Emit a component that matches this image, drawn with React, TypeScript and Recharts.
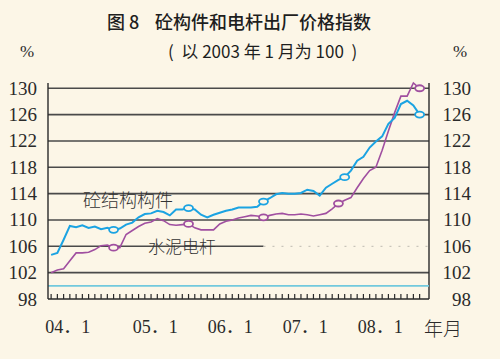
import { LineChart, Line, XAxis, YAxis, ReferenceLine } from "recharts";

// 砼结构构件 (cyan) and 水泥电杆 (purple), monthly index, 2003.1 = 100
const concrete = [
  104.7, 105, 107, 109.1, 108.9, 109.2, 108.8, 109, 108.6, 108.8,
  108.5, 108.7, 109.3, 109.6, 110.4, 110.9, 111, 111.4, 111.2, 110.7,
  111.6, 111.6, 111.8, 111.6, 110.8, 110.4, 110.8, 111.1, 111.4, 111.6,
  111.9, 111.9, 111.9, 112, 112.8, 113.3, 113.9, 114.1, 114, 114,
  114.1, 114.6, 114.4, 113.7, 114.9, 115.5, 116.1, 116.5, 117.5, 119,
  119.6, 121, 121.9, 122.7, 124.6, 125.5, 127.6, 128.1, 127.4, 126,
];
const pole = [
  102, 102.4, 102.6, 103.8, 105, 105, 105.1, 105.5, 106.1, 106.2,
  105.8, 105.8, 107.8, 108.4, 109, 109.5, 109.7, 110.2, 109.9, 109.3,
  109.2, 109.3, 109.4, 108.8, 108.5, 108.5, 108.5, 109.4, 109.8, 110,
  110.3, 110.5, 110.7, 110.6, 110.4, 110.7, 110.9, 111, 110.8, 110.8,
  110.9, 110.8, 110.6, 110.8, 111, 111.7, 112.5, 113, 113.4, 114.9,
  116.3, 117.5, 118, 120.6, 123.5, 126.3, 128.8, 128.8, 130.8, 130,
];
const concreteMarks = [10, 22, 34, 47, 59];
const poleMarks = [10, 22, 34, 46, 59];

const yTicks = [98, 102, 106, 110, 114, 118, 122, 126, 130];
const yearTickIdx = [3, 17, 29, 41, 53];
const yearLabels = ["04．1", "05．1", "06．1", "07．1", "08．1"];

const data = concrete.map((v, i) => ({ i, concrete: v, pole: pole[i] }));

const BG = "#fcf6e7";
const CYAN = "#1ba3e2";
const PURPLE = "#a04fa0";
const INK = "#2a2a2a";
const SERIF = "'Liberation Serif', 'DejaVu Serif', serif";
const CJK = "'Noto Sans CJK SC', sans-serif";

const makeDot = (marks: number[], color: string) => (props: any) => {
  const { cx, cy, index } = props;
  if (!marks.includes(index)) return <g key={`d-${color}-${index}`} />;
  return (
    <ellipse
      key={`d-${color}-${index}`}
      cx={cx}
      cy={cy}
      rx={4.5}
      ry={3}
      fill={BG}
      stroke={color}
      strokeWidth={1.8}
    />
  );
};

const XTick = (props: any) => {
  const { x, y, payload } = props;
  const k = yearTickIdx.indexOf(payload.value);
  return (
    <g>
      <line x1={x} x2={x} y1={y} y2={y - 5} stroke={INK} strokeWidth={1.2} />
      {k >= 0 && (
        <text
          x={x - 2}
          y={y + 28}
          textAnchor="middle"
          dominantBaseline="central"
          fontFamily={`${SERIF}, 'Noto Sans CJK SC'`}
          fontSize={18}
          fill={INK}
        >
          {yearLabels[k]}
        </text>
      )}
    </g>
  );
};

// same scale on both sides: the left axis draws both label columns
const SideTicks = (props: any) => {
  const { x, y, payload } = props;
  return (
    <g>
      <text x={x} y={y} textAnchor="end" dominantBaseline="central" fontFamily={SERIF} fontSize={19} fill={INK}>
        {payload.value}
      </text>
      <text x={x + 434} y={y} textAnchor="end" dominantBaseline="central" fontFamily={SERIF} fontSize={19} fill={INK}>
        {payload.value}
      </text>
    </g>
  );
};

export default function App() {
  return (
    <div style={{ position: "absolute", left: 0, top: 0, width: 500, height: 359, background: BG }}>
      <LineChart width={500} height={359} data={data} margin={{ top: 83, right: 71, bottom: 0, left: 8 }}>
        <XAxis
          dataKey="i"
          type="number"
          domain={[-0.5, 60.5]}
          ticks={data.map((d) => d.i)}
          interval={0}
          height={60}
          tickSize={0}
          tickMargin={0}
          tickLine={false}
          axisLine={{ stroke: INK, strokeWidth: 1.6 }}
          tick={<XTick />}
        />
        <YAxis
          yAxisId="left"
          domain={[98, 130]}
          ticks={yTicks}
          interval={0}
          width={40}
          tickSize={0}
          tickMargin={11}
          tickLine={false}
          axisLine={{ stroke: INK, strokeWidth: 1.4 }}
          tick={<SideTicks />}
        />
        {yTicks
          .filter((v) => v > 98 && v !== 106)
          .map((v) => (
            <ReferenceLine key={v} yAxisId="left" y={v} stroke="#4a4a4a" strokeWidth={1.6} />
          ))}
        <ReferenceLine
          yAxisId="left"
          segment={[{ x: -0.5, y: 106 }, { x: 34, y: 106 }]}
          stroke="#4a4a4a"
          strokeWidth={1.6}
        />
        <ReferenceLine
          yAxisId="left"
          segment={[{ x: 34, y: 106 }, { x: 60.5, y: 106 }]}
          stroke="#bdbab0"
          strokeWidth={1}
          strokeDasharray="2 7"
        />
        <ReferenceLine yAxisId="left" x={60.5} stroke={INK} strokeWidth={1.4} />
        <ReferenceLine yAxisId="left" y={100} stroke="#72c9dd" strokeWidth={1.6} />
        <Line
          yAxisId="left"
          type="linear"
          dataKey="pole"
          stroke={PURPLE}
          strokeWidth={1.6}
          dot={makeDot(poleMarks, PURPLE)}
          activeDot={false}
          isAnimationActive={false}
        />
        <Line
          yAxisId="left"
          type="linear"
          dataKey="concrete"
          stroke={CYAN}
          strokeWidth={2}
          dot={makeDot(concreteMarks, CYAN)}
          activeDot={false}
          isAnimationActive={false}
        />
      </LineChart>
      <svg
        width={500}
        height={359}
        style={{ position: "absolute", left: 0, top: 0, pointerEvents: "none" }}
      >
        <text x={107} y={21} dominantBaseline="central" fontFamily={CJK} fontSize={18} fontWeight={500} fill="#1e1e1e">
          图 8
        </text>
        <text x={155} y={21} dominantBaseline="central" fontFamily={CJK} fontSize={18} fontWeight={500} fill="#1e1e1e">
          砼构件和电杆出厂价格指数
        </text>
        <text
          x={168}
          y={50}
          dominantBaseline="central"
          fontFamily={CJK}
          fontSize={17}
          fill="#1e1e1e"
          xmlSpace="preserve"
        >
          {"(  以 2003 年 1 月为 100  )"}
        </text>
        <text x={27} y={51} textAnchor="middle" dominantBaseline="central" fontFamily={SERIF} fontSize={17} fill={INK}>
          %
        </text>
        <text x={460} y={51} textAnchor="middle" dominantBaseline="central" fontFamily={SERIF} fontSize={17} fill={INK}>
          %
        </text>
        <text x={83} y={199} dominantBaseline="central" fontFamily={CJK} fontSize={18} fontWeight={300} fill="#333">
          砼结构构件
        </text>
        <text x={148} y={245} dominantBaseline="central" fontFamily={CJK} fontSize={17} fontWeight={300} fill="#333">
          水泥电杆
        </text>
        <text x={424} y={327} dominantBaseline="central" fontFamily={CJK} fontSize={19} fontWeight={300} fill={INK}>
          年月
        </text>
      </svg>
    </div>
  );
}
